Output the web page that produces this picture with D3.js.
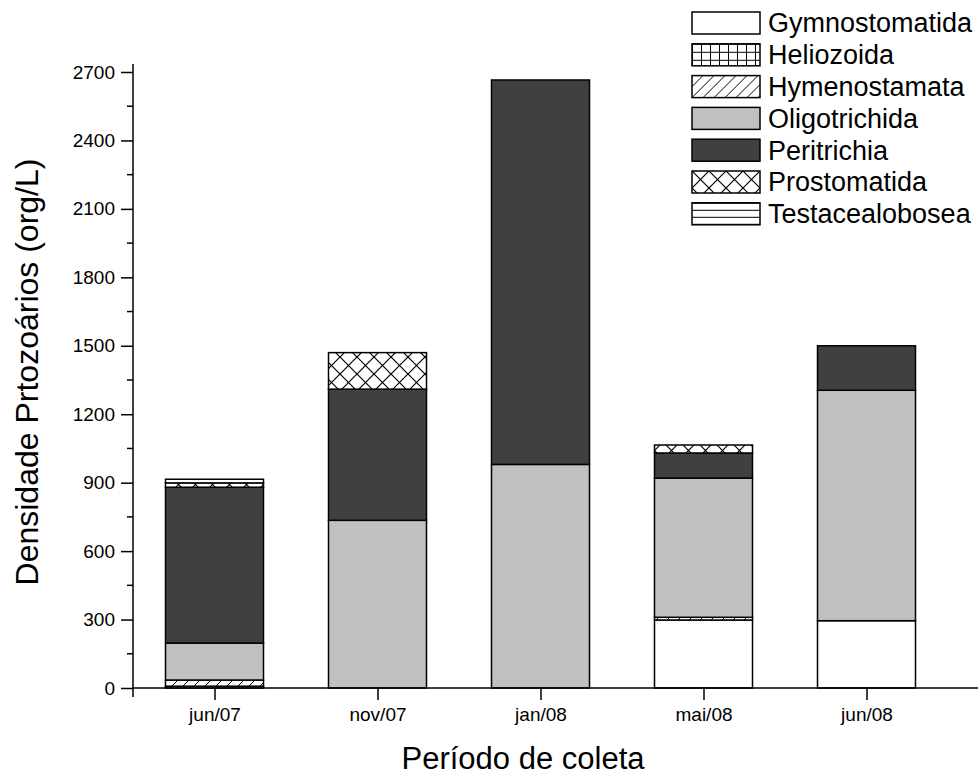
<!DOCTYPE html>
<html>
<head>
<meta charset="utf-8">
<script src="https://cdn.jsdelivr.net/npm/d3@7"></script>
<style>
  body { margin: 0; background: #fff; }
  svg text { font-family: Arial, "Liberation Sans", sans-serif; fill: #000; }
</style>
</head>
<body>
<div id="vis"></div>
<script>
// Dados -------------------------------------------------------------
const periodos = ["jun/07", "nov/07", "jan/08", "mai/08", "jun/08"];
const grupos = ["Gymnostomatida", "Heliozoida", "Hymenostamata", "Oligotrichida",
                "Peritrichia", "Prostomatida", "Testacealobosea"];
const gymnostomatida  = [8, 0, 0, 298, 295];
const heliozoida      = [0, 0, 0, 0, 0];
const hymenostamata   = [27, 0, 0, 12, 0];
const oligotrichida   = [162, 735, 980, 610, 1010];
const peritrichia     = [683, 575, 1685, 110, 195];
const prostomatida    = [19, 160, 0, 35, 0];
const testacealobosea = [16, 0, 0, 0, 0];
const yTicks = [0, 300, 600, 900, 1200, 1500, 1800, 2100, 2400, 2700];

const series = [gymnostomatida, heliozoida, hymenostamata, oligotrichida,
                peritrichia, prostomatida, testacealobosea];

const WIDTH = 980;
const HEIGHT = 780;
const SVG = d3.select("#vis").append("svg").attr("width", WIDTH).attr("height", HEIGHT);

// tabela para o d3.stack
const tabela = periodos.map((p, i) => {
    const linha = { periodo: p };
    grupos.forEach((g, j) => { linha[g] = series[j][i]; });
    return linha;
});

const x0 = 133, yBase = 688;
const x = d3.scaleLinear().domain([0.5, 5.5]).range([x0, x0 + 5 * 163]);
const y = d3.scaleLinear().domain([0, 2700]).range([yBase, 72]);
const barW = 98;

// Padrões ----------------------------------------------------------
const defs = SVG.append("defs");

const pGrade = defs.append("pattern").attr("id", "p-heliozoida")
    .attr("patternUnits", "userSpaceOnUse").attr("width", 9).attr("height", 8);
pGrade.append("rect").attr("width", 9).attr("height", 8).attr("fill", "#fff");
pGrade.append("path").attr("d", "M0,0.5H9M0.5,0V8").attr("stroke", "#000").attr("stroke-width", 1);

const pDiag = defs.append("pattern").attr("id", "p-hymenostamata")
    .attr("patternUnits", "userSpaceOnUse").attr("width", 11).attr("height", 11);
pDiag.append("rect").attr("width", 11).attr("height", 11).attr("fill", "#fff");
pDiag.append("path").attr("d", "M-2,13L13,-2M-2,2L2,-2M9,13L13,9").attr("stroke", "#000").attr("stroke-width", 1);

const pCruz = defs.append("pattern").attr("id", "p-prostomatida")
    .attr("patternUnits", "userSpaceOnUse").attr("width", 17).attr("height", 17);
pCruz.append("rect").attr("width", 17).attr("height", 17).attr("fill", "#fff");
pCruz.append("path").attr("d", "M0,0L17,17M17,0L0,17").attr("stroke", "#000").attr("stroke-width", 1.2);

const pHoriz = defs.append("pattern").attr("id", "p-testacealobosea")
    .attr("patternUnits", "userSpaceOnUse").attr("width", 8).attr("height", 7);
pHoriz.append("rect").attr("width", 8).attr("height", 7).attr("fill", "#fff");
pHoriz.append("path").attr("d", "M0,0.5H8").attr("stroke", "#000").attr("stroke-width", 1);

const preenchimento = {
    "Gymnostomatida": "#ffffff",
    "Heliozoida": "url(#p-heliozoida)",
    "Hymenostamata": "url(#p-hymenostamata)",
    "Oligotrichida": "#c0c0c0",
    "Peritrichia": "#404040",
    "Prostomatida": "url(#p-prostomatida)",
    "Testacealobosea": "url(#p-testacealobosea)"
};

// Barras empilhadas ----------------------------------------------------
const pilha = d3.stack().keys(grupos)(tabela);

SVG.append("g").selectAll("g")
    .data(pilha)
    .join("g")
    .attr("fill", d => preenchimento[d.key])
    .selectAll("rect")
    .data(d => d.filter(s => s[1] - s[0] > 0))
    .join("rect")
    .attr("x", d => x(periodos.indexOf(d.data.periodo) + 1) - barW / 2)
    .attr("y", d => y(d[1]))
    .attr("width", barW)
    .attr("height", d => y(d[0]) - y(d[1]))
    .attr("stroke", "#000")
    .attr("stroke-width", 1.5);

// Eixos ---------------------------------------------------------------
const eixoY = SVG.append("g").attr("transform", `translate(${x0},0)`);
eixoY.append("line").attr("x1", 0).attr("x2", 0).attr("y1", yBase + 9).attr("y2", 64)
    .attr("stroke", "#000").attr("stroke-width", 1.5);
eixoY.call(d3.axisLeft(y).tickValues(yTicks).tickSize(12).tickPadding(6).tickFormat(d3.format("d")))
    .call(g => g.select(".domain").remove())
    .call(g => g.selectAll(".tick line").attr("stroke-width", 1.5))
    .call(g => g.selectAll("text").attr("font-size", 19).attr("font-family", null));
eixoY.selectAll("line.minor")
    .data(yTicks.slice(0, -1).map(v => v + 150))
    .join("line")
    .attr("class", "minor")
    .attr("x1", -6).attr("x2", 0)
    .attr("y1", d => y(d)).attr("y2", d => y(d))
    .attr("stroke", "#000").attr("stroke-width", 1.5);

const eixoX = SVG.append("g").attr("transform", `translate(0,${yBase})`);
eixoX.append("line").attr("x1", x0).attr("x2", 978).attr("y1", 0).attr("y2", 0)
    .attr("stroke", "#000").attr("stroke-width", 1.5);
eixoX.call(d3.axisBottom(x).tickValues([1, 2, 3, 4, 5]).tickSize(12).tickPadding(8)
        .tickFormat(d => periodos[d - 1]))
    .call(g => g.select(".domain").remove())
    .call(g => g.selectAll(".tick line").attr("stroke-width", 1.5))
    .call(g => g.selectAll("text").attr("font-size", 19).attr("font-family", null));

// Títulos -------------------------------------------------------------
SVG.append("text")
    .attr("x", 523).attr("y", 769)
    .attr("text-anchor", "middle").attr("font-size", 31)
    .text("Período de coleta");

SVG.append("text")
    .attr("transform", `translate(38,372) rotate(-90)`)
    .attr("text-anchor", "middle").attr("font-size", 32)
    .text("Densidade Prtozoários (org/L)");

// Legenda -------------------------------------------------------------
const legenda = SVG.append("g").selectAll("g")
    .data(grupos)
    .join("g")
    .attr("transform", (d, i) => `translate(692,${12 + i * 31.8})`);
legenda.append("rect")
    .attr("width", 68).attr("height", 22)
    .attr("fill", d => preenchimento[d])
    .attr("stroke", "#000").attr("stroke-width", 1.5);
legenda.append("text")
    .attr("x", 76).attr("y", 11).attr("dy", "0.35em")
    .attr("font-size", 27)
    .text(d => d);
</script>
</body>
</html>
